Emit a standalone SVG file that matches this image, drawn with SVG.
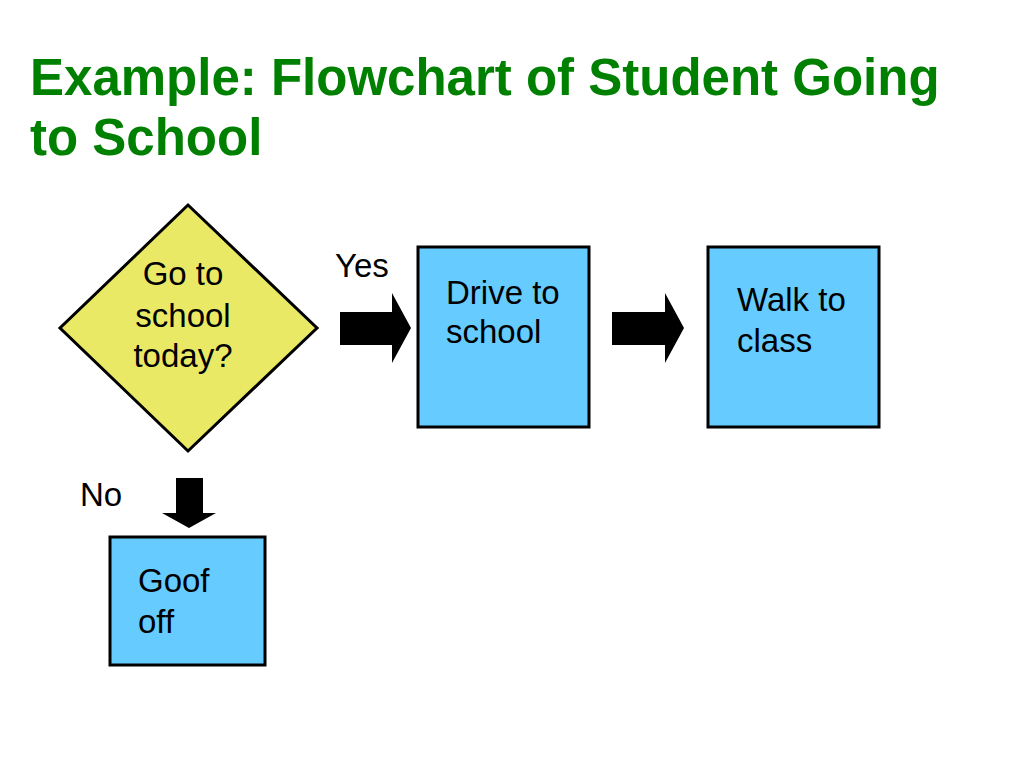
<svg xmlns="http://www.w3.org/2000/svg" width="1024" height="768" viewBox="0 0 1024 768">
<style>
.title{font-family:"Liberation Sans",Arial,sans-serif;font-weight:bold;font-size:51px;fill:#008000}
.t{font-family:"Liberation Sans",Arial,sans-serif;font-size:33px;fill:#000}
.box{fill:#66CCFF;stroke:#000;stroke-width:3}
.dia{fill:#E9E966;stroke:#000;stroke-width:3}
.arr{fill:#000}
</style>
<rect width="1024" height="768" fill="#fff"/>
<text class="title" x="30" y="95">Example: Flowchart of Student Going</text>
<text class="title" x="30" y="155">to School</text>
<g id="decision">
<polygon class="dia" points="188,205 317,328 188,451 60,328"/>
<text class="t" text-anchor="middle" x="183" y="285">Go to</text>
<text class="t" text-anchor="middle" x="183" y="327">school</text>
<text class="t" text-anchor="middle" x="183" y="367">today?</text>
</g>
<g id="drive">
<rect class="box" x="418" y="247" width="171" height="180"/>
<text class="t" x="446" y="304">Drive to</text>
<text class="t" x="446" y="343">school</text>
</g>
<g id="walk">
<rect class="box" x="708" y="247" width="171" height="180"/>
<text class="t" x="737" y="311">Walk to</text>
<text class="t" x="737" y="352">class</text>
</g>
<g id="goof">
<rect class="box" x="110" y="537" width="155" height="128"/>
<text class="t" x="138" y="592">Goof</text>
<text class="t" x="138" y="633">off</text>
</g>
<g id="connectors">
<polygon class="arr" points="340,312 392,312 392,293 411,328 392,363 392,345 340,345"/>
<text class="t" x="335" y="277">Yes</text>
<polygon class="arr" points="612,312 665,312 665,293 684,328 665,363 665,345 612,345"/>
<polygon class="arr" points="176,478 203,478 203,513 216,513 189,528 162,513 176,513"/>
<text class="t" x="80" y="506">No</text>
</g>
</svg>
